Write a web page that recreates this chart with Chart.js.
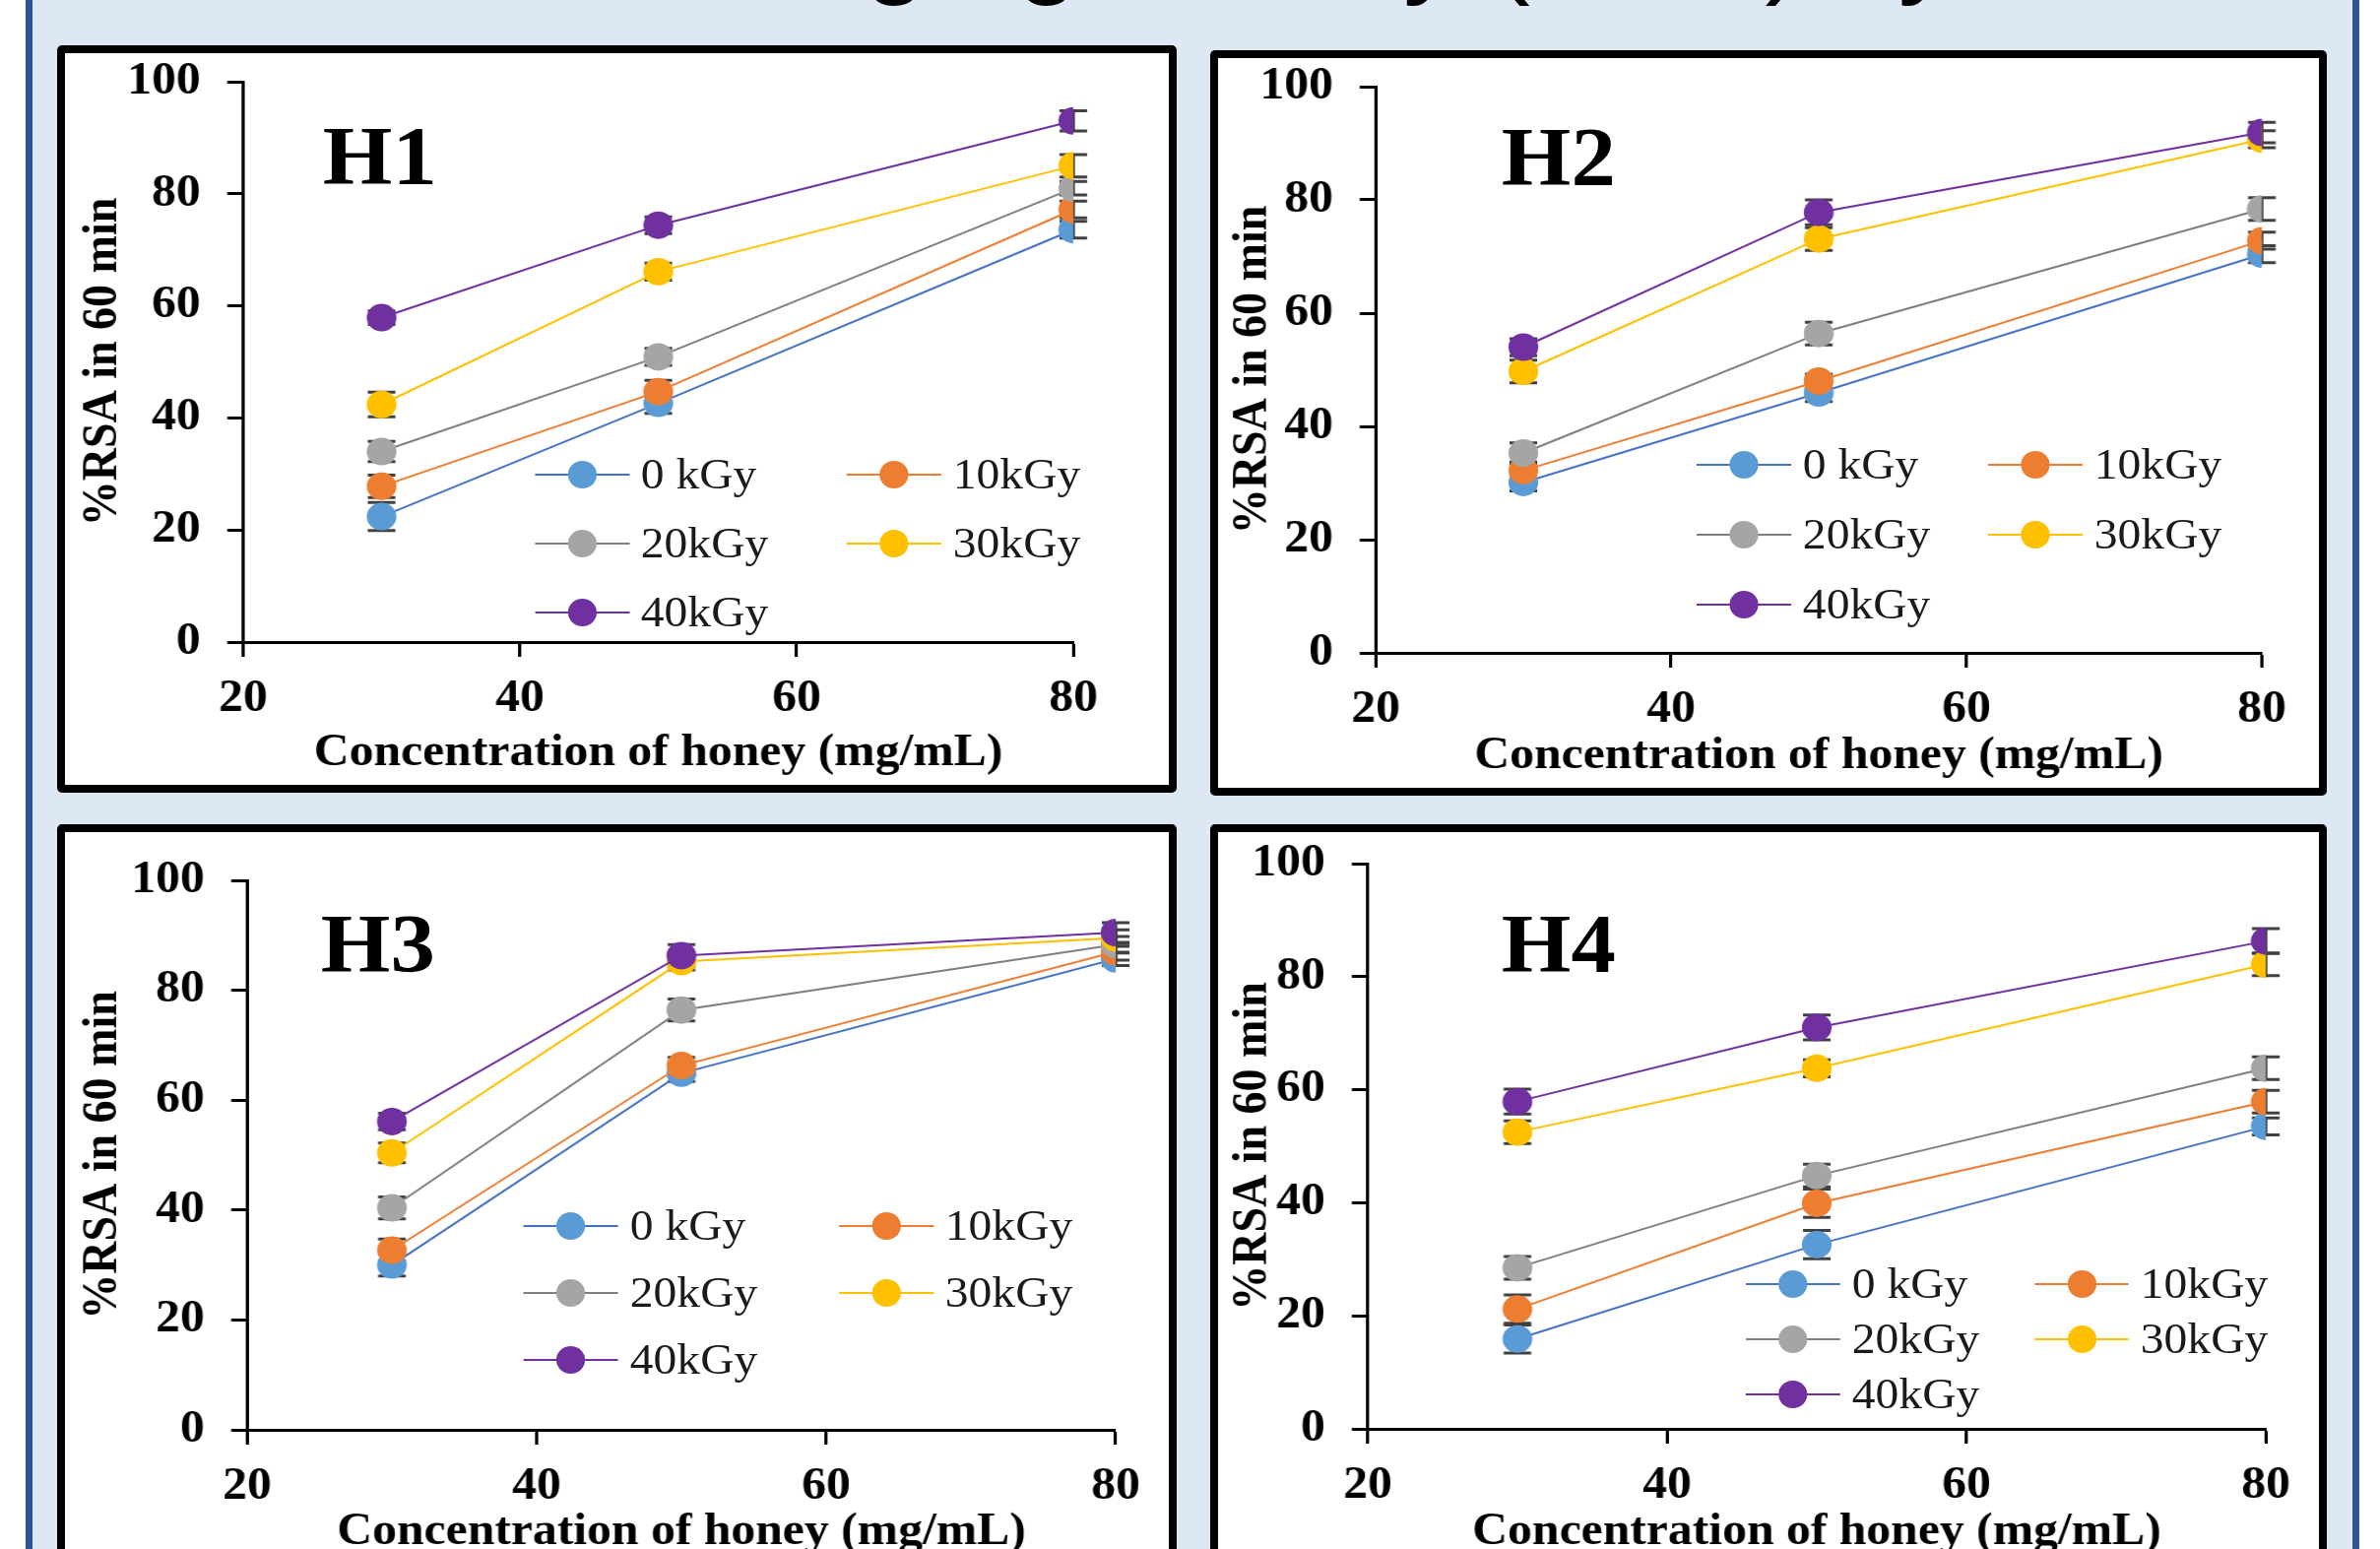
<!DOCTYPE html>
<html>
<head>
<meta charset="utf-8">
<title>Radical scavenging activity of honey</title>
<script src="https://cdn.jsdelivr.net/npm/chart.js"></script>
<style>
    html, body { margin: 0; padding: 0; background: #fff; }
    body { width: 2417px; height: 1573px; overflow: hidden; position: relative; }
    #frame { position: absolute; left: 26px; top: -20px; width: 2370px; height: 1620px; box-sizing: border-box;
             border: 7px solid #2f5597; background: #dde8f4; }
    #title { position: absolute; left: 71px; top: -116px; font: 116px/1 'Liberation Sans', sans-serif;
             white-space: nowrap; color: #000; z-index: 2; }
    .panel { position: absolute; box-sizing: border-box; border: 8px solid #000; border-radius: 5px;
             background: #fff; overflow: hidden; }
    .stage { position: absolute; left: 0; top: 0; transform-origin: 0 0; }
    .stage canvas { position: absolute; left: 0; top: 0; }
    .tag { position: absolute; font: bold 84px/1 'Liberation Serif', serif; color: #000; }
    .item { position: absolute; height: 50px; display: flex; align-items: center;
            font: 44px/1 'Liberation Serif', serif; color: #1a1a1a; white-space: nowrap; }
    .swatch { position: relative; height: 28px; display: inline-block; }
    .swatch i { position: absolute; left: 0; right: 0; top: 13px; height: 2px; }
    .swatch b { position: absolute; top: 0; width: 27px; height: 28px; border-radius: 50%; }
</style>
</head>
<body>
<div id="frame"></div>
<div id="title">Radical Scavenging activity (RSA) by</div>

<script>
// honey concentration (mg/mL) and irradiation doses
const concentrations = [30, 50, 80];
const doseLabels = ['0 kGy', '10kGy', '20kGy', '30kGy', '40kGy'];
const xTicks = [20, 40, 60, 80];
const yTicks = [0, 20, 40, 60, 80, 100];
const panelNames = ['H1', 'H2', 'H3', 'H4'];

// %RSA in 60 min, one row per dose (0, 10, 20, 30, 40 kGy)
const rsaH1 = [
    [22.4, 42.6, 73.6],
    [27.8, 44.7, 77.2],
    [34.0, 50.9, 81.0],
    [42.4, 66.1, 85.0],
    [57.9, 74.4, 93.0]
];
const rsaH2 = [
    [30.1, 45.9, 70.4],
    [32.2, 48.0, 72.8],
    [35.3, 56.4, 78.4],
    [49.7, 73.1, 90.7],
    [54.0, 77.8, 91.9]
];
const rsaH3 = [
    [30.0, 64.9, 85.7],
    [32.7, 66.3, 87.0],
    [40.4, 76.4, 88.3],
    [50.4, 85.2, 89.5],
    [56.1, 86.3, 90.5]
];
const rsaH4 = [
    [15.9, 32.6, 53.5],
    [21.2, 39.9, 57.9],
    [28.5, 44.8, 63.8],
    [52.5, 63.8, 82.2],
    [57.9, 71.0, 86.3]
];

// standard deviations (error bars)
const errH1 = [
    [2.5, 1.8, 1.5],
    [2.0, 2.0, 1.5],
    [1.8, 1.5, 1.2],
    [2.2, 1.5, 2.0],
    [1.2, 1.5, 1.8]
];
const errH2 = [
    [1.5, 1.5, 1.5],
    [1.5, 1.2, 1.5],
    [1.8, 2.0, 2.0],
    [2.0, 2.0, 1.5],
    [1.5, 2.2, 1.8]
];
const errH3 = [
    [2.0, 1.5, 1.2],
    [2.0, 1.5, 1.5],
    [2.0, 2.0, 1.5],
    [1.8, 1.5, 1.5],
    [1.5, 2.0, 1.8]
];
const errH4 = [
    [2.5, 2.5, 1.5],
    [2.5, 2.5, 2.0],
    [2.0, 2.0, 2.0],
    [2.0, 1.5, 2.0],
    [2.2, 2.2, 2.2]
];

const markerColors = ['#5B9BD5', '#ED7D31', '#A5A5A5', '#FFC000', '#7030A0'];
const lineColors = ['#4472C4', '#ED7D31', '#7F7F7F', '#FFC000', '#7030A0'];

// page geometry of each panel: outer box, plot area, y title centre, tag baseline, legend grid
const SX = 1.08;   // the source figure is a bit stretched sideways
const BORDER = 8;
const FONT = 46;
const layouts = [
    { box: [58, 46, 1195, 805],    area: [247, 83, 1090, 652],    yTitleX: 105,  tag: [330, 187],  legend: [543, 482, 317, 70] },
    { box: [1229, 51, 2363, 808],  area: [1397, 88, 2297, 663],   yTitleX: 1273, tag: [1527, 188], legend: [1723, 472, 296, 71] },
    { box: [58, 837, 1195, 1596],  area: [251, 894, 1133, 1452],  yTitleX: 105,  tag: [328, 987],  legend: [532, 1245, 320, 68] },
    { box: [1229, 837, 2363, 1596], area: [1389, 877, 2301, 1451], yTitleX: 1273, tag: [1527, 987], legend: [1773, 1304, 293, 56] }
];

Chart.defaults.font.family = "'Liberation Serif', 'Times New Roman', serif";
Chart.defaults.color = '#000';

// vertical error bars with caps, drawn under the markers
const errorBars = {
    id: 'errorBars',
    beforeDatasetsDraw(chart) {
        const ctx = chart.ctx;
        const yScale = chart.scales.y;
        ctx.save();
        ctx.strokeStyle = '#404040';
        ctx.lineWidth = 3;
        chart.data.datasets.forEach((ds, i) => {
            const meta = chart.getDatasetMeta(i);
            ds.errors.forEach((e, j) => {
                const px = meta.data[j].x;
                const v = ds.data[j].y;
                const top = yScale.getPixelForValue(v + e);
                const bot = yScale.getPixelForValue(v - e);
                ctx.beginPath();
                ctx.moveTo(px, top); ctx.lineTo(px, bot);
                ctx.moveTo(px - 13, top); ctx.lineTo(px + 13, top);
                ctx.moveTo(px - 13, bot); ctx.lineTo(px + 13, bot);
                ctx.stroke();
            });
        });
        ctx.restore();
    }
};

function axisStyle() {
    return {
        grid: { drawOnChartArea: false, drawTicks: true, tickLength: 15, tickWidth: 3, tickColor: '#000' },
        border: { display: true, color: '#000', width: 3 }
    };
}

// keep the scales from pushing the plot area around
function noScalePadding(s) {
    s.paddingTop = 0; s.paddingBottom = 0; s.paddingLeft = 0; s.paddingRight = 0;
}

function makePanel(name, values, errors, lay) {
    const [bl, bt, br, bb] = lay.box;
    const innerL = bl + BORDER, innerT = bt + BORDER;
    const innerW = br - bl - 2 * BORDER, innerH = bb - bt - 2 * BORDER;
    const cw = Math.round(innerW / SX), ch = innerH;

    const panel = document.createElement('div');
    panel.className = 'panel';
    panel.style.left = bl + 'px';
    panel.style.top = bt + 'px';
    panel.style.width = (br - bl) + 'px';
    panel.style.height = (bb - bt) + 'px';
    document.body.appendChild(panel);

    const stage = document.createElement('div');
    stage.className = 'stage';
    stage.style.width = cw + 'px';
    stage.style.height = ch + 'px';
    stage.style.transform = 'scaleX(' + SX + ')';
    panel.appendChild(stage);

    const canvas = document.createElement('canvas');
    canvas.width = cw;
    canvas.height = ch;
    stage.appendChild(canvas);

    const areaL = (lay.area[0] - innerL) / SX;
    const areaR = (lay.area[2] - innerL) / SX;
    const areaT = lay.area[1] - innerT;
    const areaB = lay.area[3] - innerT;
    const yTitlePad = (lay.yTitleX - innerL) / SX - FONT * 0.6;

    const chart = new Chart(canvas.getContext('2d'), {
        type: 'line',
        data: {
            datasets: doseLabels.map((label, i) => ({
                label: label,
                data: concentrations.map((c, j) => ({ x: c, y: values[i][j] })),
                errors: errors[i],
                borderColor: lineColors[i],
                backgroundColor: markerColors[i],
                pointBackgroundColor: markerColors[i],
                pointBorderColor: markerColors[i],
                pointBorderWidth: 0,
                pointRadius: 14,
                borderWidth: 2,
                tension: 0,
                order: doseLabels.length - i
            }))
        },
        options: {
            responsive: false,
            animation: false,
            layout: {
                autoPadding: false,
                padding: { left: 0, top: areaT, right: cw - areaR, bottom: 0 }
            },
            plugins: {
                legend: { display: false },
                tooltip: { enabled: false }
            },
            scales: {
                x: {
                    type: 'linear',
                    min: xTicks[0],
                    max: xTicks[xTicks.length - 1],
                    ticks: { stepSize: xTicks[1] - xTicks[0], padding: 16, maxRotation: 0, autoSkip: false,
                             font: { size: FONT, weight: 'bold' } },
                    title: { display: true, text: 'Concentration of honey (mg/mL)',
                             font: { size: FONT, weight: 'bold' }, padding: { top: 0, bottom: 4 } },
                    afterFit: s => { s.height = ch - areaB; noScalePadding(s); },
                    ...axisStyle()
                },
                y: {
                    type: 'linear',
                    min: yTicks[0],
                    max: yTicks[yTicks.length - 1],
                    ticks: { stepSize: yTicks[1] - yTicks[0], padding: 25, font: { size: FONT, weight: 'bold' } },
                    title: { display: true, text: '%RSA in 60 min',
                             font: { size: FONT, weight: 'bold' }, padding: { top: yTitlePad, bottom: 0 } },
                    afterFit: s => { s.width = areaL; noScalePadding(s); },
                    ...axisStyle()
                }
            }
        },
        plugins: [errorBars]
    });

    // panel tag (H1..H4)
    const tag = document.createElement('div');
    tag.className = 'tag';
    tag.textContent = name;
    tag.style.left = ((lay.tag[0] - innerL) / SX - 2) + 'px';
    tag.style.top = (lay.tag[1] - innerT - 70) + 'px';
    stage.appendChild(tag);

    // legend inside the plot, two columns, built from the chart's datasets
    const [lx, ly, ldx, ldy] = lay.legend;
    chart.data.datasets.forEach((ds, k) => {
        const col = k % 2, row = Math.floor(k / 2);
        const item = document.createElement('div');
        item.className = 'item';
        item.style.left = ((lx + col * ldx - innerL) / SX) + 'px';
        item.style.top = (ly + row * ldy - innerT - 25) + 'px';
        const sw = 96 / SX;
        item.innerHTML =
            '<span class="swatch" style="width:' + sw + 'px">' +
            '<i style="background:' + ds.borderColor + '"></i>' +
            '<b style="left:' + (sw / 2 - 13.5) + 'px;background:' + ds.pointBackgroundColor + '"></b>' +
            '</span><span style="margin-left:11px">' + ds.label + '</span>';
        stage.appendChild(item);
    });
}

const allValues = [rsaH1, rsaH2, rsaH3, rsaH4];
const allErrors = [errH1, errH2, errH3, errH4];
panelNames.forEach((name, p) => makePanel(name, allValues[p], allErrors[p], layouts[p]));
</script>
</body>
</html>
